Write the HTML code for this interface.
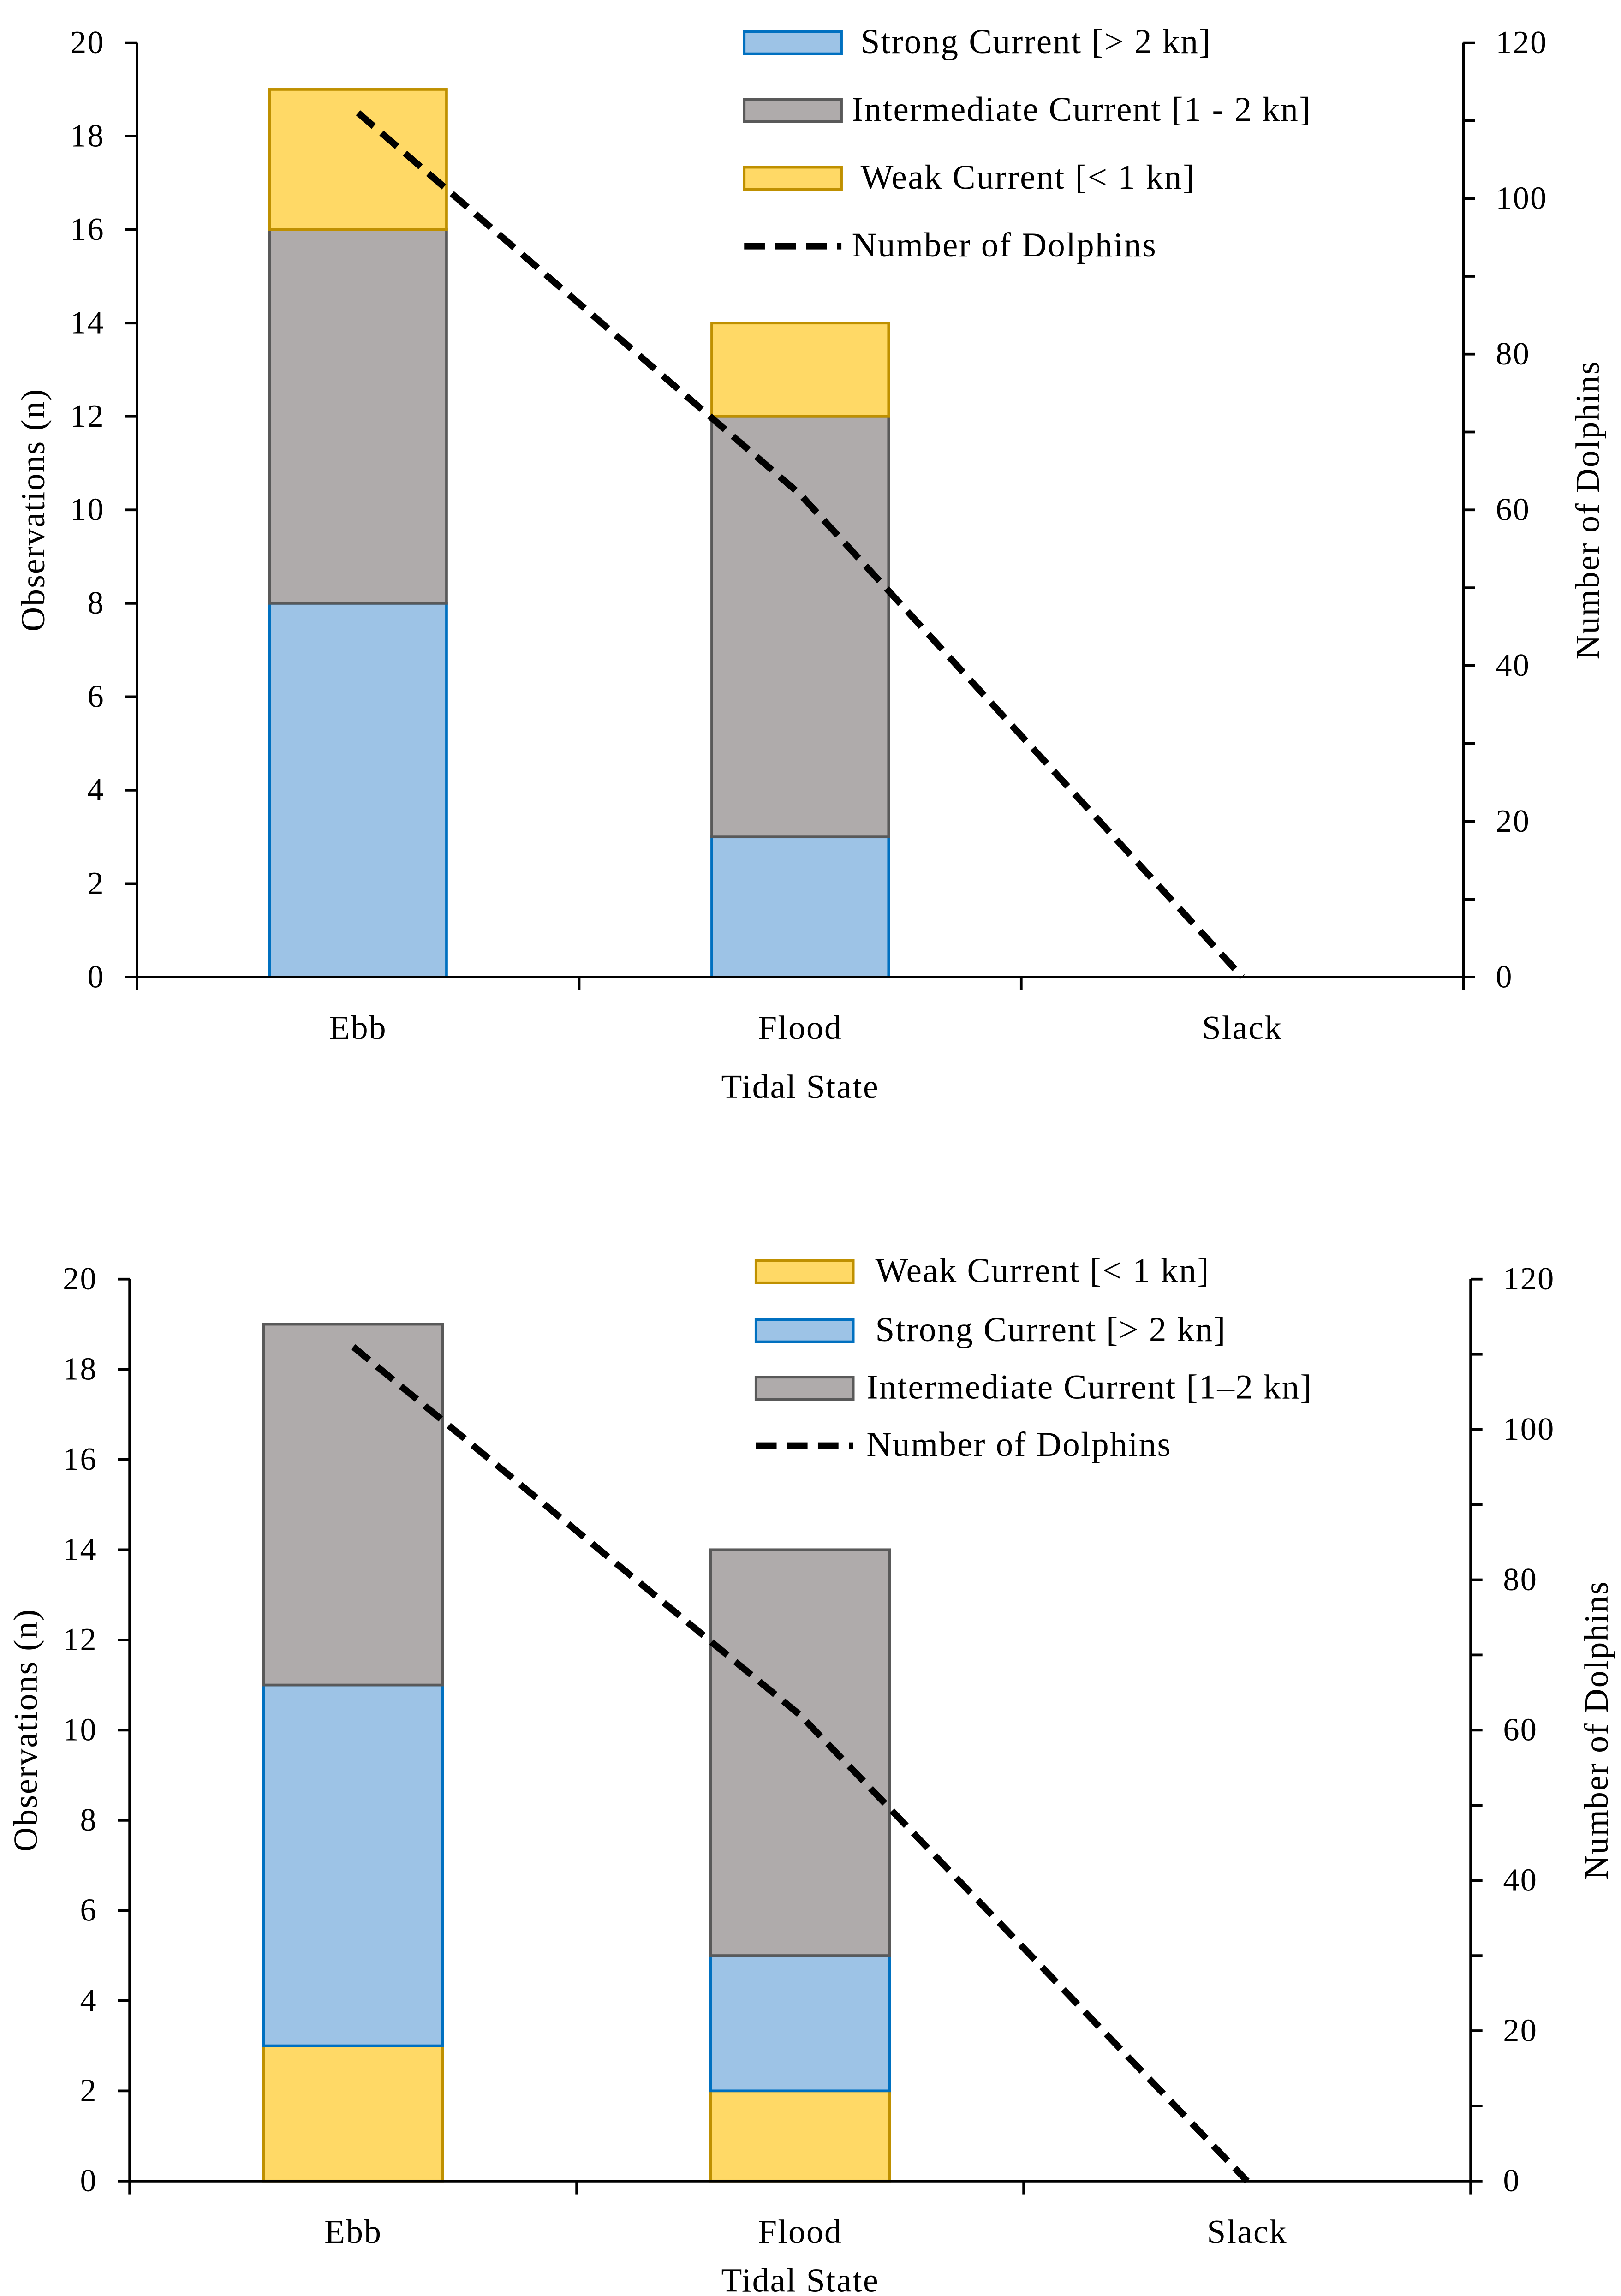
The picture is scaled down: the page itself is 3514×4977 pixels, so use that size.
<!DOCTYPE html>
<html><head><meta charset="utf-8"><style>
html,body{margin:0;padding:0;background:#fff;}
svg{display:block;font-family:"Liberation Serif",serif;}
text{letter-spacing:0.7px;}
</style></head><body>
<svg id="svg" width="3514" height="4977" viewBox="0 0 1100 1558" xmlns="http://www.w3.org/2000/svg"></svg>
<script>
const categories = ["Ebb","Flood","Slack"];
const top_strong = [8,3,0];
const top_inter = [8,9,0];
const top_weak = [3,2,0];
const top_dolphins = [111,62,0];
const bot_weak = [3,2,0];
const bot_strong = [8,3,0];
const bot_inter = [8,9,0];
const bot_dolphins = [111,62,0];
const leftTicks = [0,2,4,6,8,10,12,14,16,18,20];
const rightTicks = [0,20,40,60,80,100,120];

const NS="http://www.w3.org/2000/svg";
const svg=document.getElementById('svg');
function mk(tag,attrs,parent,text){const e=document.createElementNS(NS,tag);for(const k in attrs)e.setAttribute(k,attrs[k]);if(text!==undefined)e.textContent=text;(parent||svg).appendChild(e);return e;}
const COL={strong:["#9DC3E6","#0070C0"],inter:["#AFABAB","#595959"],weak:["#FFD966","#BF9000"]};

function chart(cfg){
  const g=mk('g',{});
  
  
  const {x0,x1,y0,y1}=cfg;
  const yL=v=>y0-(v/20)*(y0-y1);
  const yR=v=>y0-(v/120)*(y0-y1);
  const step=(x1-x0)/3;
  const xc=i=>x0+step*(i+0.5);
  const bw=step*0.4;
  categories.forEach((c,i)=>{
    let base=0;
    cfg.stack.forEach(s=>{
      const v=s.data[i]; if(v<=0) return;
      const r=mk('rect',{x:xc(i)-bw/2,y:yL(base+v),width:bw,height:yL(base)-yL(base+v),fill:COL[s.key][0],stroke:COL[s.key][1],'stroke-width':1.8},g);
      
      
      base+=v;
    });
  });
  const pts=cfg.dolphins.map((v,i)=>xc(i)+','+yR(v)).join(' ');
  const pl=mk('polyline',{points:pts,fill:'none',stroke:'#000','stroke-width':4.5,'stroke-dasharray':'14,7'},g);
  
  
  const ax=mk('g',{stroke:'#000','stroke-width':1.8},g);
  
  
  mk('line',{x1:x0,y1:y0,x2:x0,y2:y1},ax);
  mk('line',{x1:x1,y1:y0,x2:x1,y2:y1},ax);
  mk('line',{x1:x0,y1:y0,x2:x1,y2:y0},ax);
  for(let i=0;i<=3;i++) mk('line',{x1:x0+step*i,y1:y0,x2:x0+step*i,y2:y0+9},ax);
  leftTicks.forEach(v=>{
    mk('line',{x1:x0-8,y1:yL(v),x2:x0,y2:yL(v)},ax);
    const t=mk('text',{x:x0-22,y:yL(v)+7,'text-anchor':'end','font-size':22,fill:'#000',stroke:'none'},g,v);
    
    
  });
  for(let v=0;v<=120;v+=10) mk('line',{x1:x1,y1:yR(v),x2:x1+8,y2:yR(v)},ax);
  rightTicks.forEach(v=>{
    const t=mk('text',{x:x1+22,y:yR(v)+7,'font-size':22,fill:'#000'},g,v);
    
    
  });
  categories.forEach((c,i)=>{
    const t=mk('text',{x:xc(i),y:cfg.catY,'text-anchor':'middle','font-size':23},g,c);
    
    
  });
  let t=mk('text',{x:(x0+x1)/2,y:cfg.xtY,'text-anchor':'middle','font-size':23},g,'Tidal State');
  
  
  const my=(y0+y1)/2;
  t=mk('text',{x:cfg.ltX,y:my,'text-anchor':'middle','font-size':23,transform:`rotate(-90 ${cfg.ltX} ${my})`},g,'Observations (n)');
  
  
  t=mk('text',{x:cfg.rtX,y:my,'text-anchor':'middle','font-size':23,transform:`rotate(-90 ${cfg.rtX} ${my})`},g,'Number of Dolphins');
  
  
  cfg.legend.forEach((L,i)=>{
    const y=cfg.legY[i];
    const lg=mk('g',{},g);
    
    
    if(L.key==='line') mk('line',{x1:cfg.legX,y1:y,x2:cfg.legX+66,y2:y,stroke:'#000','stroke-width':4.5,'stroke-dasharray':'14,7'},lg);
    else mk('rect',{x:cfg.legX,y:y-7.5,width:66,height:15,fill:COL[L.key][0],stroke:COL[L.key][1],'stroke-width':1.8},lg);
    mk('text',{x:cfg.legX+L.dx,y:y+7,'font-size':23.5},lg,L.label);
  });
}
chart({name:'top-chart',x0:93,x1:993,y0:663,y1:29,catY:705,xtY:745,ltX:30,rtX:1085,
  stack:[{key:'strong',data:top_strong},{key:'inter',data:top_inter},{key:'weak',data:top_weak}],
  dolphins:top_dolphins,legX:505,legY:[29,75,121,167],
  legend:[{key:'strong',label:'Strong Current [> 2 kn]',dx:79},{key:'inter',label:'Intermediate Current [1 - 2 kn]',dx:73},{key:'weak',label:'Weak Current [< 1 kn]',dx:79},{key:'line',label:'Number of Dolphins',dx:73}]});
chart({name:'bottom-chart',x0:88,x1:998,y0:1480,y1:868,catY:1522,xtY:1555,ltX:25,rtX:1091,
  stack:[{key:'weak',data:bot_weak},{key:'strong',data:bot_strong},{key:'inter',data:bot_inter}],
  dolphins:bot_dolphins,legX:513,legY:[863,903,942,981],
  legend:[{key:'weak',label:'Weak Current [< 1 kn]',dx:81},{key:'strong',label:'Strong Current [> 2 kn]',dx:81},{key:'inter',label:'Intermediate Current [1–2 kn]',dx:75},{key:'line',label:'Number of Dolphins',dx:75}]});
</script>
</body></html>
